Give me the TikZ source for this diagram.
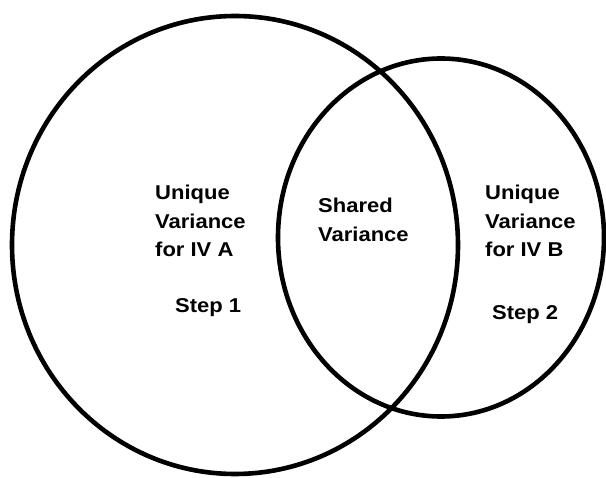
\documentclass[tikz,border=0pt]{standalone}
\usepackage{fontspec}
\setmainfont{Liberation Sans}[FakeStretch=1.1]
\begin{document}
\begin{tikzpicture}[x=1pt,y=-1pt,
  ring/.style={line width=4.6pt, draw=black},
  lbl/.style={anchor=north west, inner sep=0pt, align=left,
    font=\bfseries\fontsize{20}{28.5}\selectfont}]
  \useasboundingbox (0,0) rectangle (606,478);
  \fill[white] (0,0) rectangle (606,478);
  % the two overlapping variance circles
  \coordinate (A) at (235,245);
  \coordinate (B) at (441,237.5);
  \draw[ring] (A) ellipse [x radius=223pt, y radius=229pt];
  \draw[ring] (B) ellipse [x radius=163pt, y radius=179pt];
  % region labels
  \node[lbl] (uA) at (155,185) {Unique\\Variance\\for IV A};
  \node[lbl] (sh) at (318,198) {Shared\\Variance};
  \node[lbl] (uB) at (485,185) {Unique\\Variance\\for IV B};
  \node[lbl] (s1) at (175,298) {Step 1};
  \node[lbl] (s2) at (492,305) {Step 2};
\end{tikzpicture}
\end{document}
